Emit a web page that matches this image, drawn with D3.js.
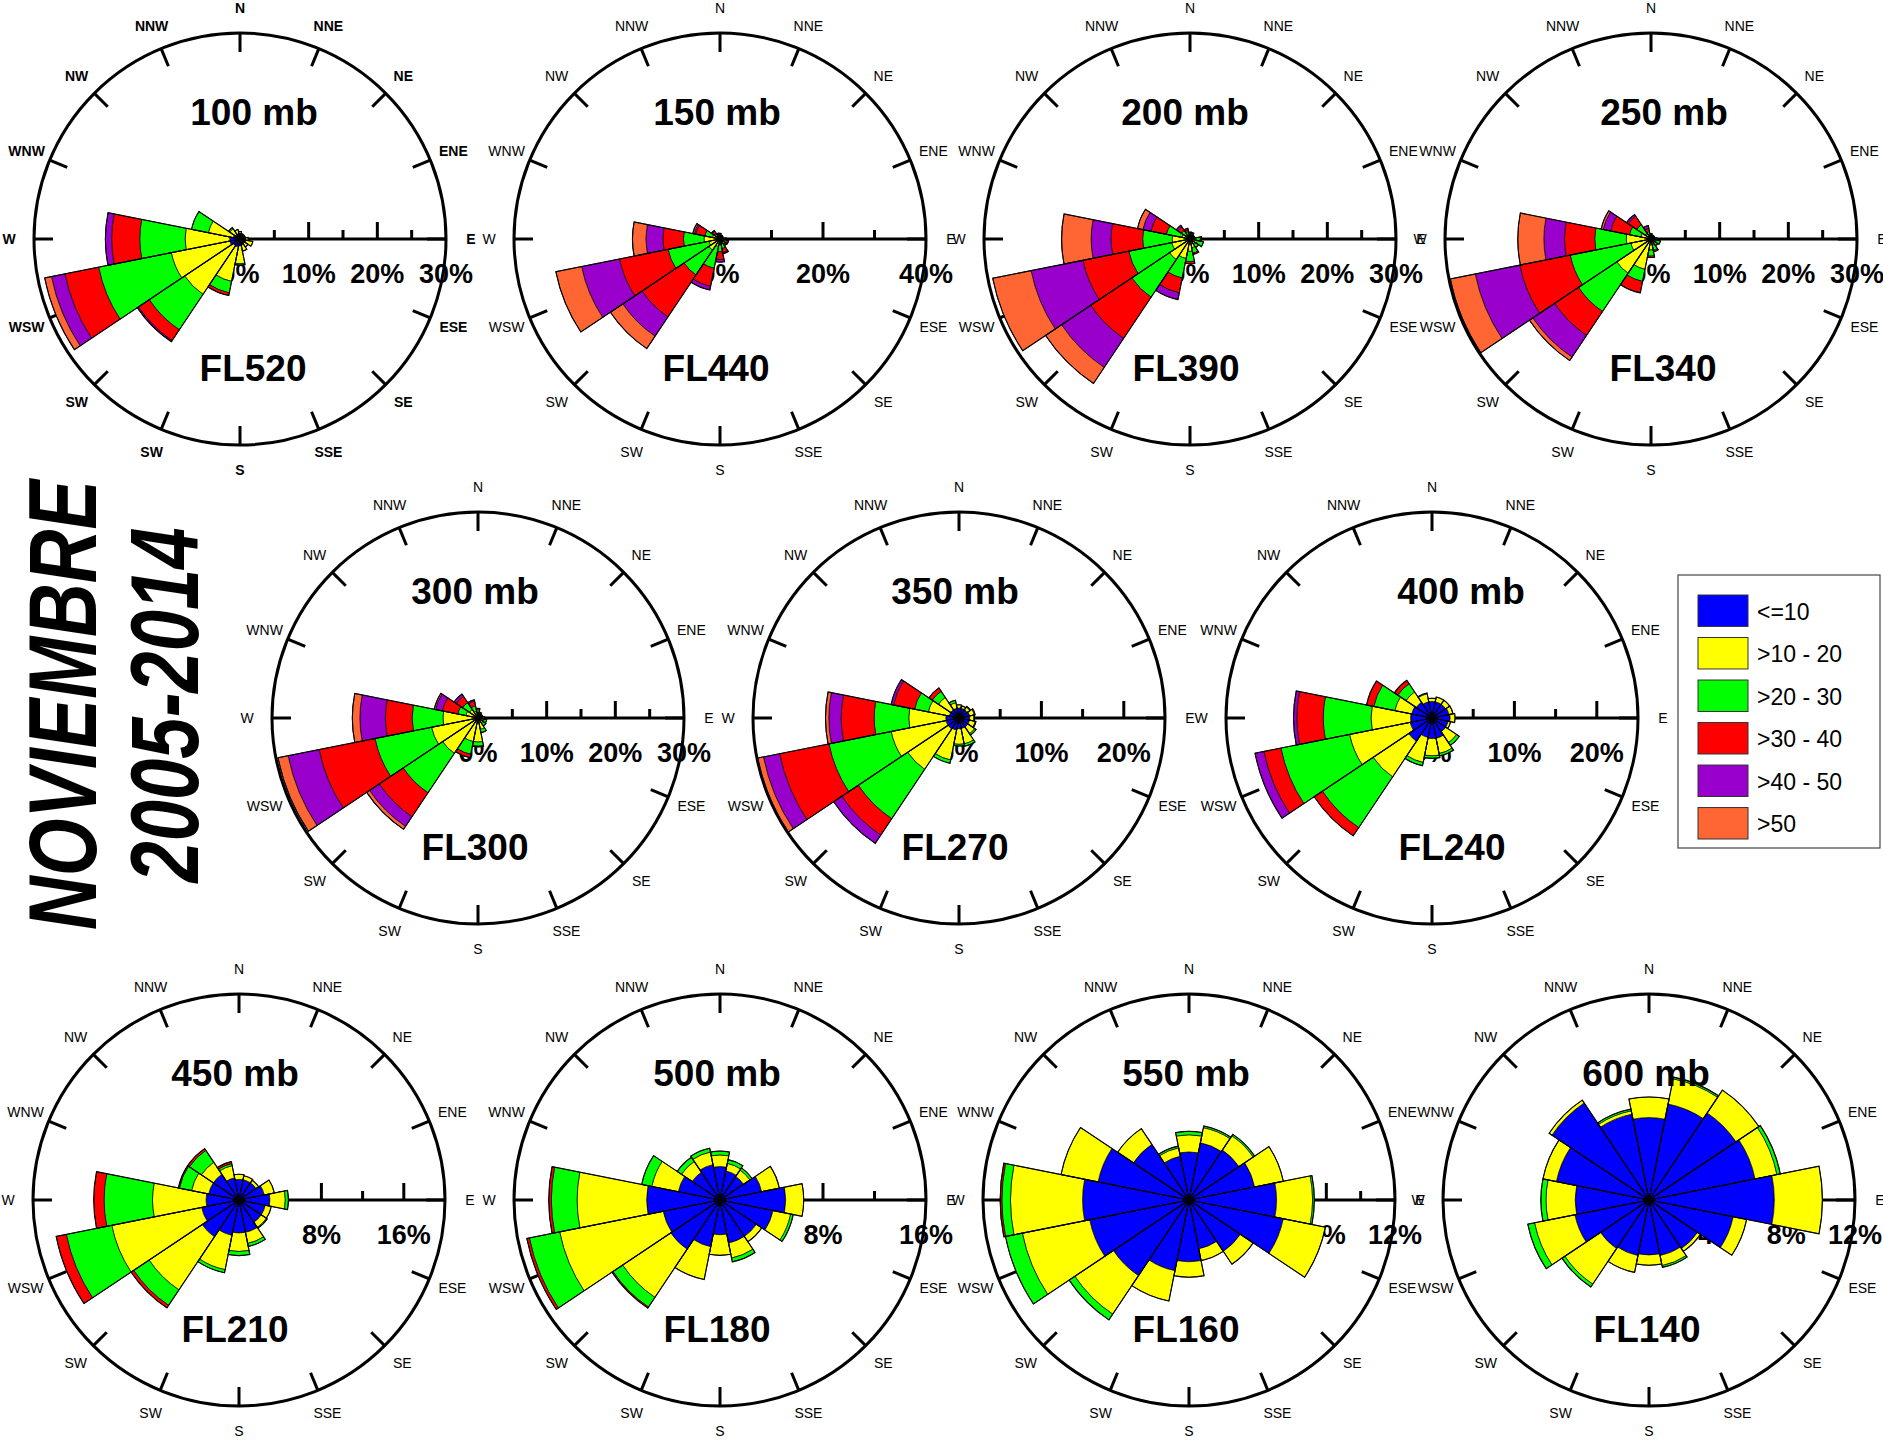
<!DOCTYPE html>
<html>
<head>
<meta charset="utf-8">
<script src="https://d3js.org/d3.v7.min.js"></script>
<style>
  body { margin: 0; background: #fff; }
  text { font-family: "Liberation Sans", Arial, sans-serif; fill: #000; }
</style>
</head>
<body>
<script>
var width = 1883, height = 1440;

// compass labels as printed on the original (SSW is printed "SW")
var directions = ["N", "NNE", "NE", "ENE", "E", "ESE", "SE", "SSE", "S", "SW", "SW", "WSW", "W", "WNW", "NW", "NNW"];
var speedClasses = ["<=10", ">10 - 20", ">20 - 30", ">30 - 40", ">40 - 50", ">50"];
var classColors = ["#0000ff", "#ffff00", "#00ff00", "#ff0000", "#9900cc", "#ff6633"];

var levels = ["100 mb", "150 mb", "200 mb", "250 mb", "300 mb", "350 mb", "400 mb", "450 mb", "500 mb", "550 mb", "600 mb"];
var flightLevels = ["FL520", "FL440", "FL390", "FL340", "FL300", "FL270", "FL240", "FL210", "FL180", "FL160", "FL140"];
var maxPct = [30, 40, 30, 30, 30, 25, 25, 20, 16, 12, 12];
var tickStep = [5, 10, 5, 5, 5, 5, 5, 4, 4, 2, 2];
var labelStep = [10, 20, 10, 10, 10, 10, 10, 8, 8, 4, 4];
var titleLines = ["NOVIEMBRE", "2005-2014"];

// frequency (%) per direction N..NNW, per speed class
var freq100 = [
  [0.8,0.3,0,0,0,0],[0.6,0.2,0,0,0,0],[0.6,0.2,0,0,0,0],[0.6,0.2,0,0,0,0],
  [0.8,0.4,0,0,0,0],[0.9,1.0,0,0,0,0],[0.8,0.6,0,0,0,0],[0.9,0.9,0,0,0,0],
  [1.0,2.6,0.2,0,0,0],[1.2,5.1,1.7,0.4,0,0],[1.2,8.5,6.2,1.9,0.2,0],[1.5,8.7,10.8,5.0,2.0,1.0],
  [1.5,6.5,6.6,4.1,0.9,0],[1.0,3.7,2.5,0,0,0],[0.8,1.0,0.2,0,0,0],[0.8,0.6,0,0,0,0]
];
var freq150 = [
  [0.1,0.6,0.4,0,0,0],[0.1,0.4,0.3,0,0,0],[0.1,0.4,0.2,0,0,0],[0.1,0.4,0.2,0,0,0],
  [0.1,0.5,0.4,0.2,0,0],[0.1,0.6,0.6,0.4,0,0],[0.1,0.6,0.6,0.3,0,0],[0.1,0.8,1.0,0.8,0.2,0],
  [0.2,0.8,1.5,1.5,0.5,0],[0.2,1.3,4.3,3.6,0.7,0],[0.2,2.4,5.8,9.8,4.5,2.9],[0.2,2.0,8.1,9.6,7.5,5.1],
  [0.2,2.9,4.0,4.0,3.3,2.6],[0.2,1.3,1.5,1.8,0.3,0.3],[0.1,0.6,0.6,0.5,0.2,0],[0.1,0.5,0.4,0.2,0,0]
];
var freq200 = [
  [0.1,0.6,0.3,0,0,0],[0.1,0.5,0.3,0.1,0,0],[0.1,0.4,0.2,0,0,0],[0.1,0.4,0.2,0,0,0],
  [0.1,0.8,0.6,0.2,0,0],[0.1,1.0,0.9,0,0,0],[0.1,0.8,0.6,0,0,0],[0.1,1.2,0.8,0.2,0,0],
  [0.1,1.7,1.5,0.3,0,0],[0.1,2.8,2.9,2.2,1.0,0],[0.1,3.5,6.6,7.2,5.1,2.8],[0.1,2.6,6.4,6.8,7.7,5.7],
  [0.1,2.5,4.3,4.6,2.9,4.3],[0.1,1.1,2.3,2.3,1.2,0.8],[0.1,0.6,0.8,0.6,0.3,0],[0.1,0.5,0.5,0.3,0.2,0]
];
var freq250 = [
  [0.1,0.4,0.3,0,0,0],[0.1,0.3,0.2,0,0,0],[0.1,0.3,0.2,0,0,0],[0.1,0.3,0.2,0,0,0],
  [0.1,0.5,0.3,0,0,0],[0.1,0.7,0.6,0,0,0],[0.1,0.6,0.5,0,0,0],[0.1,0.8,0.8,0.2,0,0],
  [0.1,1.5,0.9,0.2,0,0],[0.1,4.4,1.8,1.7,0,0],[0.2,5.8,6.7,4.2,3.8,0.6],[0.2,2.8,9.0,7.5,6.6,3.7],
  [0.2,3.4,4.6,4.4,3.0,3.8],[0.2,1.3,1.7,2.8,1.1,0.3],[0.1,0.9,1.5,1.5,0.3,0],[0.1,0.5,0.5,0.5,0.4,0]
];
var freq300 = [
  [0.2,0.6,0.4,0.2,0,0],[0.2,0.4,0.3,0,0,0],[0.2,0.3,0.2,0,0,0],[0.2,0.3,0.2,0,0,0],
  [0.2,0.5,0.3,0,0,0],[0.2,0.7,0.4,0,0,0],[0.2,0.7,0.5,0,0,0],[0.3,1.4,0.5,0,0,0],
  [0.4,3.1,0.6,0.1,0,0],[0.3,3.2,1.9,0.5,0,0],[0.3,5.9,6.9,4.2,1.7,0.5],[0.3,6.6,8.4,8.3,4.6,1.5],
  [0.3,4.8,4.5,3.9,3.7,1.1],[0.3,1.5,1.2,2.3,1.0,0.2],[0.3,1.2,1.2,1.1,0.4,0],[0.3,0.7,0.8,0.7,0.2,0]
];
var freq350 = [
  [1.2,0.4,0,0,0,0],[1.2,0.3,0,0,0,0],[1.2,0.4,0.1,0,0,0],[1.3,0.6,0.1,0,0,0],
  [1.3,0.5,0.1,0,0,0],[1.3,0.7,0.1,0,0,0],[1.3,1.0,0.2,0,0,0],[1.3,1.9,0.3,0,0,0],
  [1.3,1.9,0.2,0,0,0],[1.5,3.7,0.4,0,0,0],[1.6,5.9,7.2,2.4,1.2,0],[1.6,6.8,7.7,6.1,2.0,0.7],
  [1.6,4.5,4.2,4.0,1.5,0.4],[1.2,2.6,1.7,2.6,0.3,0],[1.2,1.8,0.9,0.5,0,0],[1.2,0.7,0.3,0,0,0]
];
var freq400 = [
  [2.0,0.4,0,0,0,0],[2.0,0.6,0,0,0,0],[2.0,0.6,0,0,0,0],[2.1,0.5,0,0,0,0],
  [2.2,0.6,0,0,0,0],[2.0,0.3,0,0,0,0],[2.0,1.6,0.4,0,0,0],[2.5,1.9,0.3,0,0,0],
  [2.5,2.1,0.3,0,0,0],[2.4,3.1,0.4,0,0,0],[3.4,5.2,7.4,1.2,0,0],[2.7,7.5,8.5,2.1,1.1,0],
  [2.6,4.8,5.8,3.2,0.4,0],[2.5,2.1,2.6,0.9,0,0],[2.3,1.5,1.2,0.5,0,0],[2.0,1.0,0.1,0,0,0]
];
var freq450 = [
  [2.0,0.5,0,0,0,0],[2.0,0.4,0,0,0,0],[2.0,0.3,0,0,0,0],[2.5,1.0,0,0,0,0],
  [3.0,1.5,0.3,0,0,0],[2.6,0.6,0,0,0,0],[2.6,0.6,0.1,0,0,0],[3.2,1.1,0.3,0,0,0],
  [3.2,1.8,0.4,0,0,0],[3.5,3.4,0.3,0,0,0],[4.3,6.2,1.8,0.3,0,0],[3.7,8.9,4.5,1.0,0,0],
  [3.2,5.2,4.7,1.0,0,0],[3.0,1.7,1.2,0.1,0,0],[3.0,1.4,1.4,0.2,0,0],[2.2,1.2,0.2,0.2,0,0]
];
var freq500 = [
  [2.6,0.9,0.3,0,0,0],[2.3,0.6,0.3,0,0,0],[2.2,0.6,0.2,0,0,0],[3.3,1.4,0,0,0,0],
  [5.1,1.4,0,0,0,0],[4.2,1.4,0.2,0,0,0],[3.4,0.5,0,0,0,0],[3.4,1.2,0.3,0,0,0],
  [2.7,1.6,0,0,0,0],[3.7,2.6,0,0,0,0],[4.6,4.5,0.9,0.1,0,0],[4.5,8.2,2.4,0.2,0,0],
  [5.7,5.4,2.0,0.2,0,0],[3.3,2.1,0.8,0,0,0],[2.6,1.0,0.4,0,0,0],[2.8,1.0,0.3,0,0,0]
];
var freq550 = [
  [2.8,1.0,0.2,0,0,0],[3.4,0.9,0.1,0,0,0],[3.5,1.0,0.1,0,0,0],[3.9,1.7,0,0,0,0],
  [5.1,2.1,0.1,0,0,0],[5.6,2.5,0,0,0,0],[3.6,0.9,0,0,0,0],[2.9,0.7,0,0,0,0],
  [3.6,0.9,0,0,0,0],[4.2,1.8,0,0,0,0],[5.3,2.7,0.4,0,0,0],[5.9,4.0,1.0,0,0,0],
  [6.2,4.2,0.5,0.1,0,0],[5.4,2.2,0,0,0,0],[3.9,1.1,0,0,0,0],[2.6,0.5,0.1,0,0,0]
];
var freq600 = [
  [4.8,1.2,0,0,0,0],[5.7,1.5,0.1,0,0,0],[6.1,1.6,0,0,0,0],[6.3,1.3,0.2,0,0,0],
  [7.3,2.8,0,0,0,0],[5.0,0.8,0,0,0,0],[3.4,0.2,0,0,0,0],[3.3,0.6,0.1,0,0,0],
  [3.2,0.6,0,0,0,0],[3.3,1.0,0,0,0,0],[3.4,2.5,0.2,0,0,0],[4.4,2.4,0.4,0,0,0],
  [4.3,1.7,0.3,0,0,0],[5.5,0.8,0,0,0,0],[6.8,0.2,0,0,0,0],[5.1,0.2,0.1,0,0,0]
];
var roseData = [freq100, freq150, freq200, freq250, freq300, freq350, freq400, freq450, freq500, freq550, freq600];

// where each rose sits on the page, and small offsets of its two captions
var layout = [
  {cx: 240, cy: 239, tdx: 14, fdx: 13}, {cx: 720, cy: 239, tdx: -3, fdx: -4},
  {cx: 1190, cy: 239, tdx: -5, fdx: -4}, {cx: 1651, cy: 239, tdx: 13, fdx: 12},
  {cx: 478, cy: 718, tdx: -3, fdx: -3}, {cx: 959, cy: 718, tdx: -4, fdx: -4},
  {cx: 1432, cy: 718, tdx: 29, fdx: 20},
  {cx: 239, cy: 1200, tdx: -4, fdx: -4}, {cx: 720, cy: 1200, tdx: -3, fdx: -3},
  {cx: 1189, cy: 1200, tdx: -3, fdx: -3}, {cx: 1649, cy: 1200, tdx: -3, fdx: -2}
];

var R = 206;

const svg = d3.select("body").append("svg")
    .attr("width", width)
    .attr("height", height);

svg.append("rect").attr("width", width).attr("height", height).attr("fill", "#fff");

var angle = d3.scaleLinear().domain([0, directions.length]).range([0, 2 * Math.PI]);
var half = Math.PI / directions.length;

roseData.forEach(function(freq, n) {
    var L = layout[n];
    var g = svg.append("g").attr("transform", "translate(" + L.cx + "," + L.cy + ")");
    var r = d3.scaleLinear().domain([0, maxPct[n]]).range([0, R]);

    // outer ring and compass ticks
    g.append("circle").attr("r", R).attr("fill", "none").attr("stroke", "#000").attr("stroke-width", 3);
    g.selectAll(".ctick").data(directions).join("line")
        .attr("x1", (d, i) => Math.sin(angle(i)) * R)
        .attr("y1", (d, i) => -Math.cos(angle(i)) * R)
        .attr("x2", (d, i) => Math.sin(angle(i)) * (R - 19))
        .attr("y2", (d, i) => -Math.cos(angle(i)) * (R - 19))
        .attr("stroke", "#000").attr("stroke-width", 3);
    g.selectAll(".clab").data(directions).join("text")
        .attr("x", (d, i) => Math.sin(angle(i)) * 231)
        .attr("y", (d, i) => -Math.cos(angle(i)) * 231)
        .attr("text-anchor", "middle")
        .attr("dominant-baseline", "central")
        .attr("font-size", 14)
        .attr("font-weight", n === 0 ? "bold" : "normal")
        .text(d => d);

    // percentage axis towards E
    g.append("line").attr("x1", 0).attr("x2", R).attr("y1", 0).attr("y2", 0)
        .attr("stroke", "#000").attr("stroke-width", 3);
    var tickVals = d3.range(tickStep[n], maxPct[n] - 0.001, tickStep[n]);
    g.selectAll(".atick").data(tickVals).join("line")
        .attr("x1", d => r(d)).attr("x2", d => r(d))
        .attr("y1", 0)
        .attr("y2", d => (Math.abs(d / labelStep[n] - Math.round(d / labelStep[n])) < 1e-6) ? -17 : -9)
        .attr("stroke", "#000").attr("stroke-width", 3);
    var labVals = d3.range(0, maxPct[n] + 0.001, labelStep[n]);
    g.selectAll(".alab").data(labVals).join("text")
        .attr("x", d => r(d)).attr("y", 44)
        .attr("text-anchor", "middle")
        .attr("font-size", 27).attr("font-weight", "bold")
        .text(d => d + "%");

    // wedges, one annular sector per speed class
    var arc = d3.arc();
    var segs = [];
    freq.forEach(function(row, i) {
        var cum = Array.from(d3.cumsum(row));
        row.forEach(function(v, k) {
            if (v > 0) segs.push({dir: i, k: k, r0: r(cum[k] - v), r1: r(cum[k])});
        });
    });
    g.selectAll(".seg").data(segs).join("path")
        .attr("d", d => arc({innerRadius: d.r0, outerRadius: d.r1,
                             startAngle: angle(d.dir) - half, endAngle: angle(d.dir) + half}))
        .attr("fill", d => classColors[d.k])
        .attr("stroke", "#000").attr("stroke-width", 0.7);
    g.selectAll(".wedge").data(freq).join("path")
        .attr("d", (d, i) => arc({innerRadius: 0, outerRadius: r(d3.sum(d)),
                                  startAngle: angle(i) - half, endAngle: angle(i) + half}))
        .attr("fill", "none").attr("stroke", "#000").attr("stroke-width", 1.1);
    g.append("circle").attr("r", 3).attr("fill", "#000");

    // captions
    g.append("text").attr("x", L.tdx).attr("y", -114)
        .attr("text-anchor", "middle").attr("font-size", 37).attr("font-weight", "bold")
        .text(levels[n]);
    g.append("text").attr("x", L.fdx).attr("y", 142)
        .attr("text-anchor", "middle").attr("font-size", 37).attr("font-weight", "bold")
        .text(flightLevels[n]);
});

// vertical title
svg.append("text")
    .attr("transform", "translate(96,705) rotate(-90)")
    .attr("text-anchor", "middle")
    .attr("font-size", 96).attr("font-weight", "bold").attr("font-style", "italic")
    .attr("textLength", 450).attr("lengthAdjust", "spacingAndGlyphs")
    .text(titleLines[0]);
svg.append("text")
    .attr("transform", "translate(198,705) rotate(-90)")
    .attr("text-anchor", "middle")
    .attr("font-size", 96).attr("font-weight", "bold").attr("font-style", "italic")
    .attr("textLength", 355).attr("lengthAdjust", "spacingAndGlyphs")
    .text(titleLines[1]);

// legend
var lg = svg.append("g").attr("transform", "translate(1678,575)");
lg.append("rect").attr("width", 202).attr("height", 273)
    .attr("fill", "#fff").attr("stroke", "#444").attr("stroke-width", 1.2);
var ly = d3.scaleBand().domain(speedClasses).range([20, 264]).paddingInner(0.26).paddingOuter(0);
lg.selectAll(".sw").data(speedClasses).join("rect")
    .attr("x", 20).attr("y", d => ly(d))
    .attr("width", 50).attr("height", ly.bandwidth())
    .attr("fill", (d, i) => classColors[i])
    .attr("stroke", "#333").attr("stroke-width", 1);
lg.selectAll(".lt").data(speedClasses).join("text")
    .attr("x", 79).attr("y", d => ly(d) + ly.bandwidth() / 2 + 9)
    .attr("font-size", 23)
    .text(d => d);
</script>
</body>
</html>
